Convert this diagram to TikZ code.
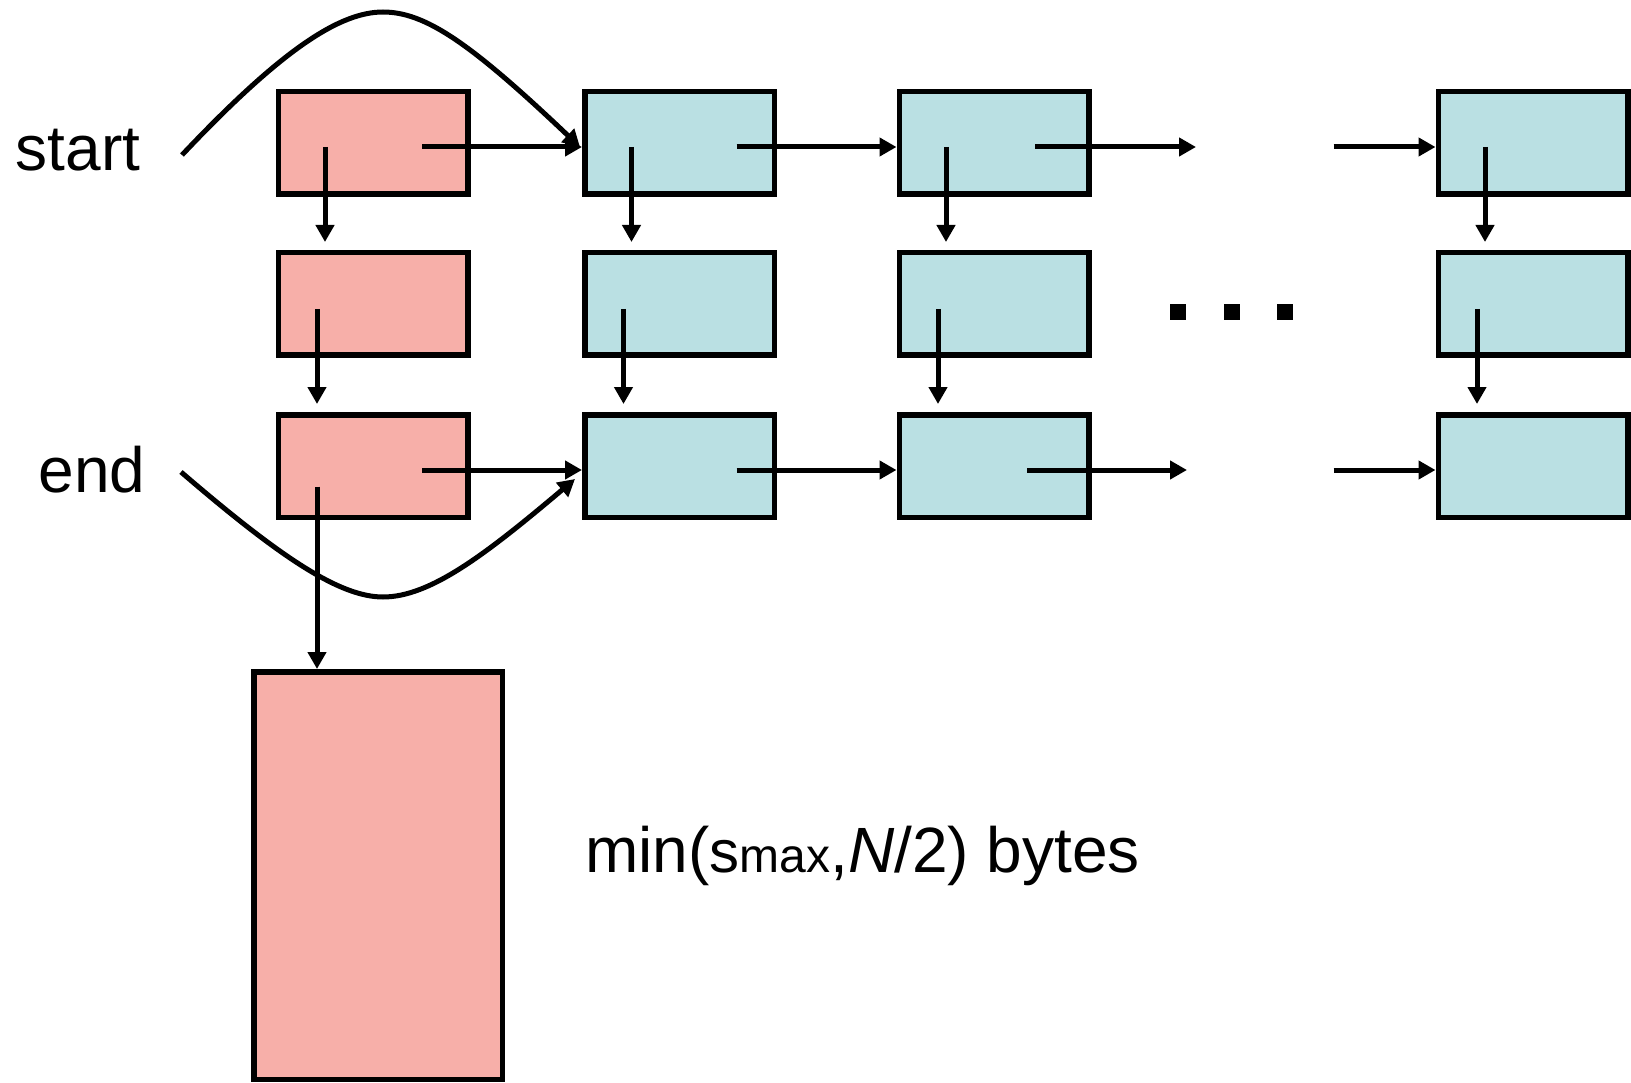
\documentclass[tikz,border=0pt]{standalone}
\usepackage{fontspec}
\setmainfont{Liberation Sans}
\usetikzlibrary{arrows.meta,calc}
\definecolor{pinkfill}{HTML}{F7AFA9}
\definecolor{bluefill}{HTML}{BAE0E3}
\begin{document}
\begin{tikzpicture}[x=1pt,y=-1pt,
  cell/.style={draw=black,line width=5.5pt,minimum width=189.5pt,minimum height=102.5pt,inner sep=0pt},
  pcell/.style={cell,fill=pinkfill},
  bcell/.style={cell,fill=bluefill},
  ptr/.style={line width=5pt,-{Triangle[length=17pt,width=18pt]}},
  curv/.style={line width=5pt,-{Triangle[length=17pt,width=18pt]}},
  lbl/.style={font=\fontsize{64}{77}\selectfont,inner sep=0pt,anchor=base west},
  dotsq/.style={fill=black,minimum size=16pt,inner sep=0pt}
]
\useasboundingbox (0,0) rectangle (1631,1083);

% boxes
\node[pcell] (r1c0) at (373,143) {};
\node[pcell] (r2c0) at (373,304) {};
\node[pcell] (r3c0) at (373,466) {};
\node[bcell] (r1c1) at (679.5,143) {};
\node[bcell] (r2c1) at (679.5,304) {};
\node[bcell] (r3c1) at (679.5,466) {};
\node[bcell] (r1c2) at (994,143) {};
\node[bcell] (r2c2) at (994,304) {};
\node[bcell] (r3c2) at (994,466) {};
\node[bcell] (r1c3) at (1533,143) {};
\node[bcell] (r2c3) at (1533,304) {};
\node[bcell] (r3c3) at (1533,466) {};
\node[pcell,minimum width=248.5pt,minimum height=407.5pt] (big) at (378,875.5) {};

% dots
\node[dotsq] (d1) at (1177.8,312.2) {};
\node[dotsq] (d2) at (1231.7,312.2) {};
\node[dotsq] (d3) at (1284.5,312.2) {};

% horizontal pointers, row 1
\coordinate (a10) at ($(r1c0.center)+(49,4)$);
\draw[ptr] (a10) -- (a10 -| r1c1.west);
\coordinate (a11) at ($(r1c1.center)+(57,4)$);
\draw[ptr] (a11) -- (a11 -| r1c2.west);
\coordinate (a12) at ($(r1c2.center)+(41,4)$);
\coordinate (e12) at (1196,147);
\draw[ptr] (a12) -- (e12);
\coordinate (a13) at (1333.5,147);
\draw[ptr] (a13) -- (a13 -| r1c3.west);

% horizontal pointers, row 3
\coordinate (a30) at ($(r3c0.center)+(49,4)$);
\draw[ptr] (a30) -- (a30 -| r3c1.west);
\coordinate (a31) at ($(r3c1.center)+(57,4)$);
\draw[ptr] (a31) -- (a31 -| r3c2.west);
\coordinate (a32) at ($(r3c2.center)+(33,4)$);
\coordinate (e32) at (1187,470);
\draw[ptr] (a32) -- (e32);
\coordinate (a33) at (1333.5,470);
\draw[ptr] (a33) -- (a33 -| r3c3.west);

% vertical pointers
\foreach \c in {0,1,2,3}{
  \coordinate (v1\c) at ($(r1c\c.center)+(-48,4)$);
  \coordinate (w1\c) at ($(v1\c |- r2c\c.north)+(0,-8)$);
  \draw[ptr] (v1\c) -- (w1\c);
  \coordinate (v2\c) at ($(r2c\c.center)+(-56,5)$);
  \coordinate (w2\c) at ($(v2\c |- r3c\c.north)+(0,-8)$);
  \draw[ptr] (v2\c) -- (w2\c);
}
\coordinate (v30) at ($(r3c0.center)+(-56,20.5)$);
\draw[ptr] (v30) -- (v30 |- big.north);

% start / end curves
\coordinate (sc) at (182,155);
\draw[curv] (sc) .. controls (282,49) and (340,12) .. (383,12)
  .. controls (425,12) and (470,42.5) .. ([shift={(-2,4)}]r1c1.west);
\coordinate (ec) at (181,472);
\draw[curv] (ec) .. controls (281,558) and (340,597) .. (383,597)
  .. controls (430,597) and (485,555) .. ([shift={(-7,13)}]r3c1.west);

% labels
\node[lbl] (lstart) at (15.5,170.7) {start};
\node[lbl] (lend) at (38.5,492.7) {end};
\node[lbl] (lsize) at (585,872.7) {min(\fontsize{60}{72}\selectfont s\fontsize{48}{58}\selectfont max\fontsize{64}{77}\selectfont,\textit{N}/2) bytes};
\end{tikzpicture}
\end{document}
